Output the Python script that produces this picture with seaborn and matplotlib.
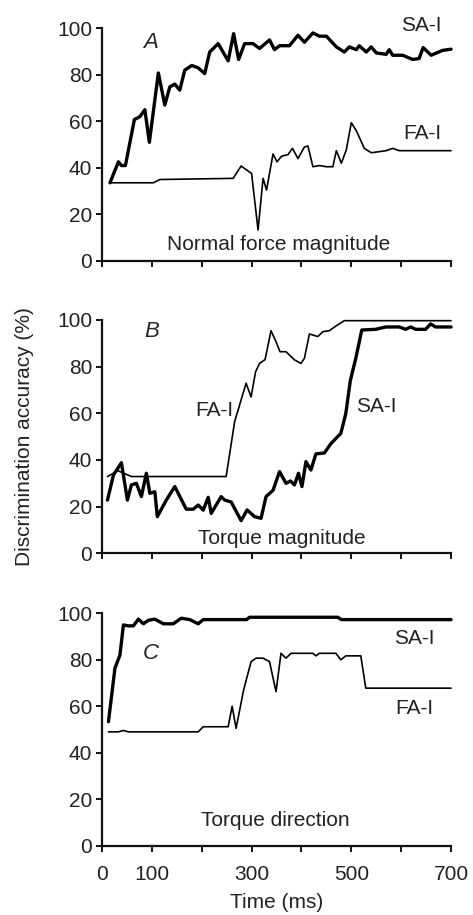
import matplotlib
matplotlib.use("Agg")
import matplotlib.pyplot as plt
import pandas as pd
import seaborn as sns

# Panel A - normal force magnitude
a_sa_t = [16, 33, 39, 47, 65, 76, 86, 95, 113, 126, 136, 146, 156, 166, 180, 193, 206, 216, 233,
          253, 264, 274, 286, 303, 316, 336, 346, 356, 376, 393, 406, 423, 436, 450, 470, 486,
          496, 510, 516, 530, 540, 550, 570, 576, 583, 603, 623, 636, 644, 660, 683, 700]
a_sa_v = [33.6, 42.6, 41, 41, 60.8, 62, 65, 51, 80.8, 67, 74.8, 76, 73.4, 82, 84, 83, 80.5, 89.8, 93.4,
          86, 97.7, 86.6, 93.4, 93.4, 91.3, 95, 90.8, 92.5, 92.5, 97, 94, 98, 96.6, 96.6, 92, 89.8,
          92, 90.8, 92.5, 89.8, 92, 89.4, 88.8, 90.8, 88.4, 88.4, 86.6, 87, 91.7, 88.4, 90.5, 91]
a_fa_t = [16, 103, 116, 263, 279, 300, 313, 323, 330, 343, 351, 360, 373, 382, 393, 406, 413, 423,
          436, 450, 463, 470, 480, 490, 500, 510, 526, 540, 570, 583, 596, 700]
a_fa_v = [33.6, 33.6, 35, 35.5, 40.8, 37.6, 13.3, 35.5, 30.5, 46, 42.6, 45, 45.7, 48.4, 44, 49, 49.4, 40.5,
          41, 40.5, 40.5, 47.4, 42, 47.8, 59.4, 56, 48.4, 46.5, 47.4, 48.4, 47.4, 47.4]

# Panel B - torque magnitude
b_sa_t = [11, 23, 39, 51, 59, 69, 79, 89, 96, 106, 111, 129, 146, 169, 183, 193, 203, 213, 219, 239,
          246, 259, 279, 291, 306, 319, 329, 343, 356, 369, 378, 386, 394, 401, 409, 419, 429, 446,
          459, 479, 489, 498, 509, 521, 549, 569, 596, 609, 619, 629, 649, 659, 669, 700]
b_sa_v = [22.8, 33.6, 38.8, 22.8, 29.3, 30, 24.3, 34.3, 25.7, 26.4, 15.7, 22.8, 28.6, 18.9, 18.9, 20.7, 18.5, 24, 17.1, 24.3,
          22.8, 22, 14, 18.6, 15.7, 15, 24.3, 27, 35, 30, 31, 29.3, 34.3, 28.6, 39.3, 35.7, 42.6, 43,
          47, 51.4, 60, 74, 83.6, 95.7, 96, 97, 97, 96, 97, 96, 96, 98.3, 97, 97]
b_fa_t = [11, 32, 59, 249, 266, 276, 289, 299, 308, 316, 327, 339, 349, 357, 369, 386, 399, 406, 416,
          433, 443, 456, 469, 486, 700]
b_fa_v = [32.9, 35.4, 32.9, 32.9, 56.4, 63.6, 72.9, 67, 77.8, 81.4, 83, 95.4, 90.7, 86.4, 86.4, 82.9, 81.4, 83.6, 94,
          92.9, 95, 95.4, 97.4, 99.7, 99.7]

# Panel C - torque direction
c_sa_t = [13, 26, 36, 43, 53, 63, 73, 83, 93, 106, 123, 143, 159, 176, 193, 203, 290, 296, 473, 480, 700]
c_sa_v = [53.4, 76.4, 82, 95, 94.6, 94.6, 97.5, 95.5, 97, 97.5, 95.5, 95.5, 97.9, 97.3, 95.5, 97.3, 97.3,
          98.3, 98.3, 97.3, 97.3]
c_fa_t = [13, 33, 43, 53, 193, 203, 253, 261, 269, 284, 299, 309, 323, 336, 349, 359, 369, 379, 423,
          429, 436, 469, 479, 489, 519, 529, 700]
c_fa_v = [49, 49, 49.6, 49, 49, 51.2, 51.2, 60, 50.5, 67, 79.2, 80.7, 80.7, 79.2, 66.3, 82.8, 80.7, 82.8, 82.8,
          81.7, 82.8, 82.8, 80, 81.7, 81.7, 67.8, 67.8]

x_ticks = [0, 100, 200, 300, 400, 500, 600, 700]
x_tick_labels = ["0", "100", "", "300", "", "500", "", "700"]
y_ticks = [0, 20, 40, 60, 80, 100]

sns.set_style("ticks")
plt.rcParams["font.family"] = ["Liberation Sans", "DejaVu Sans"]

fig = plt.figure(figsize=(4.73, 9.15), dpi=100)
ax_a = fig.add_axes([0.2156, 0.7148, 0.738, 0.2543])
ax_b = fig.add_axes([0.2156, 0.3953, 0.738, 0.2550])
ax_c = fig.add_axes([0.2156, 0.0757, 0.738, 0.2540])

panels = [
    (ax_a, a_sa_t, a_sa_v, a_fa_t, a_fa_v, "A", (97, 94),
     "Normal force magnitude", (355, 6.9), (640, 101.3), (642, 54.8)),
    (ax_b, b_sa_t, b_sa_v, b_fa_t, b_fa_v, "B", (100, 95),
     "Torque magnitude", (360, 6.3), (551, 62.8), (225, 61)),
    (ax_c, c_sa_t, c_sa_v, c_fa_t, c_fa_v, "C", (98, 82.8),
     "Torque direction", (348, 10.8), (627, 89.3), (626, 59.1)),
]

for ax, sa_t, sa_v, fa_t, fa_v, letter, lpos, title, tpos, sapos, fapos in panels:
    df_sa = pd.DataFrame({"time": sa_t, "acc": sa_v})
    df_fa = pd.DataFrame({"time": fa_t, "acc": fa_v})
    sns.lineplot(data=df_fa, x="time", y="acc", ax=ax, color="black", linewidth=1.2,
                 sort=False, estimator=None, clip_on=False)
    sns.lineplot(data=df_sa, x="time", y="acc", ax=ax, color="black", linewidth=2.4,
                 sort=False, estimator=None, clip_on=False)
    ax.set_xlim(0, 700)
    ax.set_ylim(0, 100)
    ax.set_xticks(x_ticks)
    ax.set_yticks(y_ticks)
    ax.set_xlabel("")
    ax.set_ylabel("")
    sns.despine(ax=ax)
    for s in ["left", "bottom"]:
        ax.spines[s].set_linewidth(1.6)
        ax.spines[s].set_color("#111111")
    ax.tick_params(axis="both", direction="out", length=4, width=1.4, color="#111111",
                   labelsize=15, labelcolor="#222222")
    ax.tick_params(axis="y", pad=3)
    ax.tick_params(axis="x", pad=10)
    ax.text(lpos[0], lpos[1], letter, fontsize=16, style="italic", ha="center", va="center")
    ax.text(tpos[0], tpos[1], title, fontsize=15, ha="center", va="center", color="#222222")
    ax.text(sapos[0], sapos[1], "SA-I", fontsize=15, ha="center", va="center", color="#222222")
    ax.text(fapos[0], fapos[1], "FA-I", fontsize=15, ha="center", va="center", color="#222222")

ax_a.set_xticklabels([])
ax_b.set_xticklabels([])
ax_c.set_xticklabels(x_tick_labels)
ax_c.set_xlabel("Time (ms)", fontsize=15, color="#222222", labelpad=6)

fig.text(25 / 473, 1 - 437 / 915, "Discrimination accuracy (%)", rotation=90,
         fontsize=15, ha="center", va="center", color="#222222")

fig.savefig("out.png", dpi=100)
plt.close(fig)
